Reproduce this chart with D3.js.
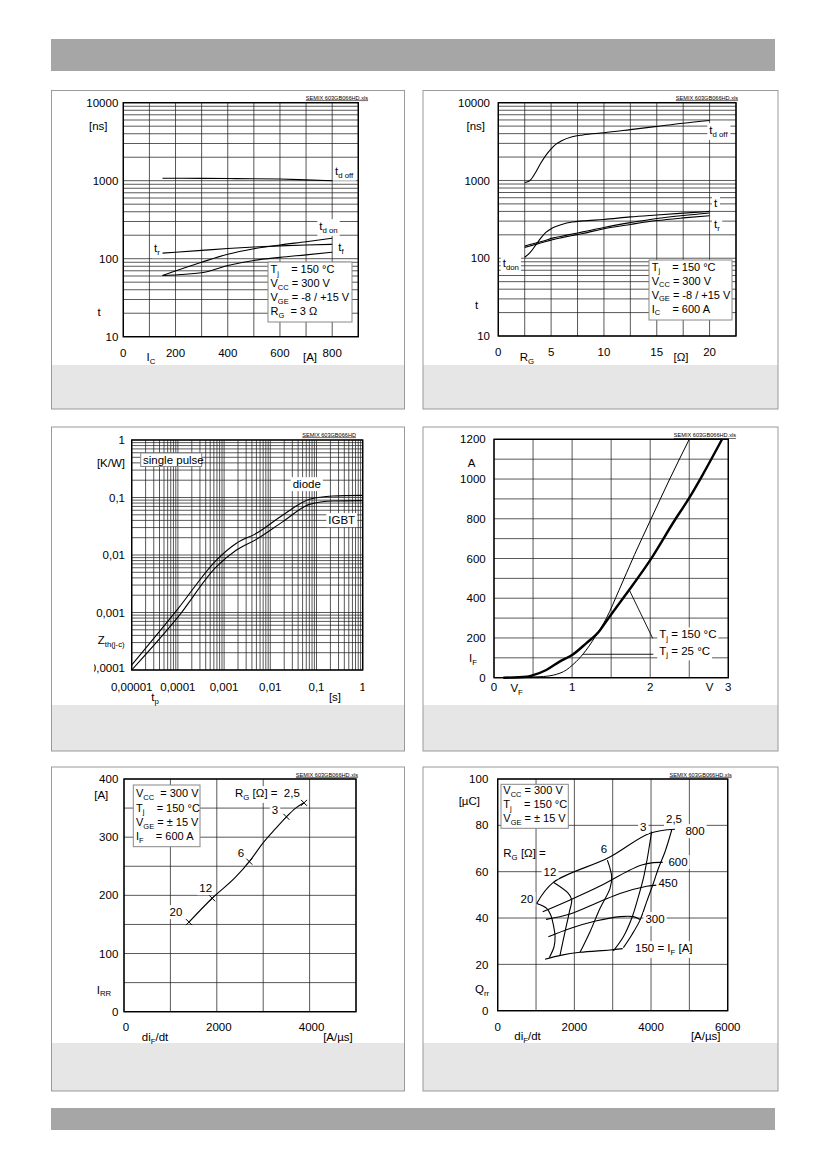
<!DOCTYPE html>
<html>
<head>
<meta charset="utf-8">
<script src="https://cdn.jsdelivr.net/npm/d3@7"></script>
<style>
  body { margin: 0; background: #fff; }
  text { font-family: "Liberation Sans", Arial, Helvetica, sans-serif; fill: #000; }
</style>
</head>
<body>
<script>
// ---------- data ----------

// fig 1: switching times vs I_C  (R_G = 3 ohm)
const icVals   = [150, 300, 400, 500, 600, 700, 800];
const tdoffIc  = [1075, 1070, 1065, 1060, 1050, 1025, 1000];
const tdonIc   = [61, 90, 114, 134, 150, 165, 183];
const trIc     = [118, 128, 135, 141, 146, 150, 153];
const tfIc     = [61, 66, 82, 95, 104, 112, 121];

// fig 2: switching times vs R_G  (I_C = 600 A)
const rgVals   = [2.5, 3, 3.5, 4, 4.5, 5, 5.5, 6, 7, 8, 10, 12.5, 15, 17.5, 20];
const tdoffRg  = [940, 1000, 1250, 1650, 2100, 2550, 2950, 3250, 3650, 3850, 4100, 4500, 4950, 5450, 5900];
const tdonRg   = [103, 118, 145, 180, 215, 240, 258, 272, 292, 302, 315, 340, 360, 380, 400];
const tfRg     = [144, 150, 156, 163, 170, 180, 186, 192, 205, 218, 249, 287, 325, 355, 382];
const trRg     = [138, 144, 150, 157, 164, 171, 178, 184, 196, 208, 240, 272, 305, 330, 352];

// fig 3: transient thermal impedance
const tpDiode  = [1e-5, 1.02e-4, 6.84e-4, 1.85e-3, 4.99e-3, 0.01875, 0.0706, 0.2254, 1];
const zthDiode = [1.22e-4, 1.18e-3, 8.18e-3, 0.0160, 0.0238, 0.0497, 0.0929, 0.1062, 0.109];
const tpIgbt   = [1e-5, 1.02e-4, 6.84e-4, 1.85e-3, 4.99e-3, 0.01875, 0.0706, 0.2254, 1];
const zthIgbt  = [1e-4, 8.47e-4, 6.27e-3, 0.0122, 0.0187, 0.0380, 0.0760, 0.0869, 0.0881];

// fig 4: diode forward characteristic
const vf150 = [0.12, 0.42, 0.5, 0.67, 0.84, 1.0, 1.18, 1.35, 1.44, 1.5, 1.69, 2.0, 2.31, 2.5, 2.67, 2.92];
const if150 = [0, 5, 13, 39, 81, 114, 173, 235, 285, 318, 420, 592, 790, 905, 1020, 1200];
const vf25  = [0.12, 0.59, 0.76, 0.93, 1.0, 1.05, 1.18, 1.31, 1.44, 1.6, 1.8, 2.0, 2.25, 2.5];
const if25  = [0, 5, 13, 40, 62, 80, 139, 215, 300, 440, 620, 790, 1000, 1200];

// fig 5: peak reverse recovery current vs di/dt
const didtIrr = [1400, 1900, 2414, 2700, 2986, 3271, 3500, 3700, 3879];
const irrVals = [154, 195, 232, 258, 289, 315, 335, 350, 359];
const rgMarkLabels = ["20", "12", "6", "3", "2,5"];
const rgMarkDidt   = [1400, 1900, 2700, 3500, 3879];
const rgMarkIrr    = [154, 195, 258, 335, 359];

// fig 6: recovered charge vs di/dt (lines of constant I_F and constant R_G)
const if800Di = [1017, 1452, 2887, 3957, 4626];
const if800Q  = [46.3, 55.4, 66.0, 76.5, 78.3];
const if600Di = [1174, 1887, 2670, 3365, 3757, 4061, 4304];
const if600Q  = [42.7, 47.8, 53.8, 60.0, 62.9, 63.9, 64.0];
const if450Di = [1261, 1887, 2670, 3191, 3887, 4148];
const if450Q  = [39.4, 41.7, 47.1, 50.6, 53.7, 54.2];
const if300Di = [1322, 1887, 2583, 3191, 3539, 3713];
const if300Q  = [31.9, 35.5, 38.8, 40.6, 40.6, 39.4];
const if150Di = [1235, 1670, 2148, 2930, 3261];
const if150Q  = [22.2, 24.0, 25.2, 26.2, 26.8];
const rg20Di  = [1017, 1278, 1383, 1452, 1496, 1470, 1348];
const rg20Q   = [46.3, 44.2, 41.3, 37.0, 31.9, 27.6, 23.0];
const rg12Di  = [1452, 1843, 1930, 1870, 1757, 1626];
const rg12Q   = [55.4, 50.6, 47.8, 42.7, 34.1, 24.0];
const rg6Di   = [2861, 2974, 2930, 2670, 2409, 2148];
const rg6Q    = [65.0, 57.8, 52.8, 44.2, 34.1, 25.2];
const rg3Di   = [4017, 3974, 3904, 3800, 3670, 3496, 3278, 3017];
const rg3Q    = [77.3, 72.9, 65.8, 57.1, 49.2, 39.9, 31.9, 25.8];
const rg25Di  = [4539, 4365, 4191, 4061, 3887, 3713, 3496, 3278];
const rg25Q   = [78.0, 68.6, 61.4, 55.0, 47.1, 39.1, 32.7, 27.2];

// ---------- page ----------
const svg = d3.select("body").append("svg")
    .attr("width", 826).attr("height", 1169);

svg.append("rect").attr("x", 51).attr("y", 39).attr("width", 724).attr("height", 32).attr("fill", "#a6a6a6");
svg.append("rect").attr("x", 51).attr("y", 1108).attr("width", 724).attr("height", 22).attr("fill", "#a6a6a6");

const panels = [
    {x: 51.5, y: 90.5, w: 353, h: 318.5, band: 365},
    {x: 423, y: 90.5, w: 355, h: 318.5, band: 365},
    {x: 51.5, y: 427, w: 353, h: 324, band: 705},
    {x: 423, y: 427, w: 355, h: 324, band: 705},
    {x: 51.5, y: 767, w: 353, h: 324, band: 1043},
    {x: 423, y: 767, w: 355, h: 324, band: 1043}
];
panels.forEach(p => {
    svg.append("rect").attr("x", p.x).attr("y", p.band).attr("width", p.w).attr("height", p.y + p.h - p.band)
        .attr("fill", "#e6e6e6");
    svg.append("rect").attr("x", p.x).attr("y", p.y).attr("width", p.w).attr("height", p.h)
        .attr("fill", "none").attr("stroke", "#9a9a9a").attr("stroke-width", 1);
});

// text with _{sub} support, y is the vertical middle of the glyphs
function rich(g, str, x, y, opt = {}) {
    const size = opt.size || 11.5;
    const t = g.append("text")
        .attr("x", x).attr("y", y + size * 0.36)
        .attr("font-size", size)
        .attr("text-anchor", opt.anchor || "start")
        .style("white-space", "pre");
    let sub = false;
    str.split(/(_\{[^}]*\})/).forEach(p => {
        if (!p) return;
        const m = p.match(/^_\{(.*)\}$/);
        if (m) {
            t.append("tspan").attr("font-size", size * 0.68).attr("dy", size * 0.24).text(m[1]);
            sub = true;
        } else {
            const ts = t.append("tspan").text(p);
            if (sub) { ts.attr("dy", -size * 0.24); sub = false; }
        }
    });
    if (opt.bg) {
        const b = t.node().getBBox();
        g.insert("rect", () => t.node())
            .attr("x", b.x - 2).attr("y", b.y - 1).attr("width", b.width + 4).attr("height", b.height + 2)
            .attr("fill", "#fff");
    }
    return t;
}

function logTicks(lo, hi) {
    const out = [];
    for (let e = lo; e < hi; e++) for (let d = 1; d < 10; d++) out.push(d * Math.pow(10, e));
    out.push(Math.pow(10, hi));
    return out;
}

function grid(g, x, y, xt, yt) {
    const [x0, x1] = x.range(), [y0, y1] = y.range();
    g.append("g").selectAll("line").data(xt).join("line")
        .attr("x1", d => x(d)).attr("x2", d => x(d)).attr("y1", y0).attr("y2", y1)
        .attr("stroke", "#222").attr("stroke-width", 0.75);
    g.append("g").selectAll("line").data(yt).join("line")
        .attr("x1", x0).attr("x2", x1).attr("y1", d => y(d)).attr("y2", d => y(d))
        .attr("stroke", "#222").attr("stroke-width", 0.75);
    g.append("rect").attr("x", x0).attr("y", y1).attr("width", x1 - x0).attr("height", y0 - y1)
        .attr("fill", "none").attr("stroke", "#000").attr("stroke-width", 1.4);
}

function note(g, str, x, y) {
    g.append("text").attr("x", x).attr("y", y).attr("font-size", 5.6).attr("text-anchor", "end")
        .attr("fill", "#444").style("text-decoration", "underline").text(str);
}

function curve(g, xs, ys, x, y, w, type) {
    g.append("path").datum(d3.zip(xs, ys))
        .attr("fill", "none").attr("stroke", "#000").attr("stroke-width", w || 1.1)
        .attr("stroke-linejoin", "round")
        .attr("d", d3.line().x(d => x(d[0])).y(d => y(d[1])).curve(type || d3.curveMonotoneX));
}

function legendBox(g, x, y, w, h, lines, tx, ty, step) {
    g.append("rect").attr("x", x).attr("y", y).attr("width", w).attr("height", h)
        .attr("fill", "#fff").attr("stroke", "#888").attr("stroke-width", 1);
    lines.forEach((s, i) => rich(g, s, tx, ty + i * step, {size: 11}));
}

// ---------- fig 1 ----------
{
    const g = svg.append("g");
    const x = d3.scaleLinear().domain([0, 900]).range([123.3, 358.3]);
    const y = d3.scaleLog().domain([10, 10000]).range([336.7, 102.7]);
    grid(g, x, y, d3.range(0, 901, 100), logTicks(1, 4));
    note(g, "SEMIX 603GB066HD.xls", 368, 99.5);
    [10, 100, 1000, 10000].forEach(v => rich(g, String(v), 118.3, y(v), {anchor: "end"}));
    rich(g, "[ns]", 107.5, y(5000), {anchor: "end"});
    rich(g, "t", 99, y(21), {anchor: "middle"});
    [0, 200, 400, 600, 800].forEach(v => rich(g, String(v), x(v), 353.3, {anchor: "middle"}));
    rich(g, "I_{C}", x(106), 356.7, {anchor: "middle"});
    rich(g, "[A]", x(715), 357, {anchor: "middle"});

    curve(g, icVals, tdoffIc, x, y);
    curve(g, icVals, tdonIc, x, y);
    curve(g, icVals, trIc, x, y);
    curve(g, icVals, tfIc, x, y);

    rich(g, "t_{d off}", 335, 170.7, {bg: true});
    rich(g, "t_{d on}", 319.3, 226, {bg: true});
    rich(g, "t_{r}", 154, 248.3, {bg: true});
    rich(g, "t_{f}", 338.3, 246.7, {bg: true});
    legendBox(g, 268, 262, 84, 60,
        ["T_{j}    = 150 °C", "V_{CC} = 300 V", "V_{GE} = -8 / +15 V", "R_{G}  = 3 Ω"], 270.5, 269, 14);
}

// ---------- fig 2 ----------
{
    const g = svg.append("g");
    const x = d3.scaleLinear().domain([0, 22.5]).range([498.3, 736]);
    const y = d3.scaleLog().domain([10, 10000]).range([336, 102.7]);
    grid(g, x, y, d3.range(0, 22.6, 2.5), logTicks(1, 4));
    note(g, "SEMIX 603GB066HD.xls", 738, 99.5);
    [10, 100, 1000, 10000].forEach(v => rich(g, String(v), 490, y(v), {anchor: "end"}));
    rich(g, "[ns]", 485, y(5000), {anchor: "end"});
    rich(g, "t", 476.7, y(25), {anchor: "middle"});
    [0, 5, 10, 15, 20].forEach(v => rich(g, String(v), x(v), 351.7, {anchor: "middle"}));
    rich(g, "R_{G}", x(2.7), 356.7, {anchor: "middle"});
    rich(g, "[Ω]", x(17.3), 356.7, {anchor: "middle"});

    curve(g, rgVals, tdoffRg, x, y);
    curve(g, rgVals, tdonRg, x, y);
    curve(g, rgVals, tfRg, x, y);
    curve(g, rgVals, trRg, x, y);

    rich(g, "t_{d off}", 709.3, 130, {bg: true});
    rich(g, "t", 714, 202.7, {bg: true});
    rich(g, "t_{r}", 714, 224, {bg: true});
    rich(g, "t_{don}", 502.7, 262.7, {bg: true});
    legendBox(g, 649, 260, 83, 60,
        ["T_{j}    = 150 °C", "V_{CC} = 300 V", "V_{GE} = -8 / +15 V", "I_{C}    = 600 A"], 651.7, 266.7, 14);
}

// ---------- fig 3 ----------
{
    const g = svg.append("g");
    const x = d3.scaleLog().domain([1e-5, 1]).range([131.7, 362.7]);
    const y = d3.scaleLog().domain([1e-4, 1]).range([670, 440]);
    grid(g, x, y, logTicks(-5, 0), logTicks(-4, 0));
    note(g, "SEMIX 603GB066HD", 356, 436.5);

    svg.append("clipPath").attr("id", "clip3")
        .append("rect").attr("x", 94).attr("y", 420).attr("width", 270.5).attr("height", 300);
    const lab = g.append("g").attr("clip-path", "url(#clip3)");
    const yTickVals = [1, 0.1, 0.01, 0.001, 0.0001];
    const yTickText = ["1", "0,1", "0,01", "0,001", "0,0001"];
    yTickVals.forEach((v, i) => rich(lab, yTickText[i], 125, y(v) - (i === 4 ? 2 : 0), {anchor: "end"}));
    const xTickVals = [1e-5, 1e-4, 1e-3, 1e-2, 1e-1, 1];
    const xTickText = ["0,00001", "0,0001", "0,001", "0,01", "0,1", "1"];
    xTickVals.forEach((v, i) => rich(lab, xTickText[i], x(v), 686.7, {anchor: "middle"}));
    rich(g, "[K/W]", 125, 463.3, {anchor: "end"});
    rich(g, "Z_{th(j-c)}", 97.7, 640);
    rich(g, "t_{p}", 155, 696.7, {anchor: "middle"});
    rich(g, "[s]", 335, 696.7, {anchor: "middle"});

    curve(g, tpDiode, zthDiode, x, y);
    curve(g, tpIgbt, zthIgbt, x, y);

    g.append("rect").attr("x", 140.7).attr("y", 453).attr("width", 61).attr("height", 13.5)
        .attr("fill", "#fff").attr("stroke", "#888").attr("stroke-width", 1);
    rich(g, "single pulse", 143, 459.7);
    rich(g, "diode", 292.7, 484, {bg: true});
    rich(g, "IGBT", 328.3, 520, {bg: true});
}

// ---------- fig 4 ----------
{
    const g = svg.append("g");
    const x = d3.scaleLinear().domain([0, 3]).range([494, 728.3]);
    const y = d3.scaleLinear().domain([0, 1200]).range([677.7, 439.3]);
    grid(g, x, y, d3.range(0, 3.01, 0.5), d3.range(0, 1201, 100));
    note(g, "SEMIX 603GB066HD.xls", 736, 437);
    [0, 200, 400, 600, 800, 1000, 1200].forEach(v => rich(g, String(v), 485.7, y(v), {anchor: "end"}));
    rich(g, "A", 471.7, y(1082), {anchor: "middle"});
    rich(g, "I_{F}", 473, y(98), {anchor: "middle"});
    [0, 1, 2, 3].forEach(v => rich(g, String(v), x(v), 686.7, {anchor: "middle"}));
    rich(g, "V_{F}", x(0.29), 688, {anchor: "middle"});
    rich(g, "V", x(2.76), 686.7, {anchor: "middle"});

    curve(g, vf25, if25, x, y, 1.0);
    curve(g, vf150, if150, x, y, 2.4);

    g.append("line").attr("x1", x(1.733)).attr("y1", y(441)).attr("x2", 652.7).attr("y2", 638.3)
        .attr("stroke", "#000").attr("stroke-width", 0.9);
    g.append("line").attr("x1", x(1.138)).attr("y1", y(118)).attr("x2", 653.3).attr("y2", y(118))
        .attr("stroke", "#000").attr("stroke-width", 0.9);
    rich(g, "T_{j} = 150 °C", 659.3, 634.3, {bg: true});
    rich(g, "T_{j} = 25 °C", 659.3, 650.5, {bg: true});
}

// ---------- fig 5 ----------
{
    const g = svg.append("g");
    const x = d3.scaleLinear().domain([0, 5000]).range([124, 356]);
    const y = d3.scaleLinear().domain([0, 400]).range([1011.7, 779]);
    grid(g, x, y, d3.range(0, 5001, 1000), d3.range(0, 401, 50));
    note(g, "SEMIX 603GB066HD.xls", 358, 776.5);
    [0, 100, 200, 300, 400].forEach(v => rich(g, String(v), 118.3, y(v), {anchor: "end"}));
    rich(g, "[A]", 108.3, y(373), {anchor: "end"});
    rich(g, "I_{RR}", 96.7, y(38));
    [0, 2000, 4000].forEach(v => rich(g, String(v), x(v) + 2, 1026.7, {anchor: "middle"}));
    rich(g, "di_{F}/dt", 155, 1036.7, {anchor: "middle"});
    rich(g, "[A/µs]", 338, 1036.7, {anchor: "middle"});

    legendBox(g, 133.3, 785, 66.7, 61.7,
        ["V_{CC}  = 300 V", "T_{j}    = 150 °C", "V_{GE} = ± 15 V", "I_{F}    = 600 A"], 136, 793.3, 14.4);

    rich(g, "20", 176, 912, {anchor: "middle", bg: true});
    rich(g, "12", 205.7, 888, {anchor: "middle", bg: true});
    rich(g, "6", 241, 853, {anchor: "middle", bg: true});
    rich(g, "3", 275, 810, {anchor: "middle", bg: true});
    rich(g, "R_{G} [Ω] =  2,5", 235, 793, {bg: true});

    curve(g, didtIrr, irrVals, x, y);
    const mk = d3.zip(rgMarkDidt, rgMarkIrr);
    g.append("g").selectAll("path").data(mk).join("path")
        .attr("d", d => {
            const px = x(d[0]), py = y(d[1]), s = 3;
            return `M${px - s},${py - s}L${px + s},${py + s}M${px - s},${py + s}L${px + s},${py - s}`;
        })
        .attr("stroke", "#000").attr("stroke-width", 1);
}

// ---------- fig 6 ----------
{
    const g = svg.append("g");
    const x = d3.scaleLinear().domain([0, 6000]).range([497.7, 727.7]);
    const y = d3.scaleLinear().domain([0, 100]).range([1010.7, 779]);
    grid(g, x, y, d3.range(0, 6001, 1000), d3.range(0, 101, 20));
    note(g, "SEMIX 603GB066HD.xls", 731.7, 776.5);
    [0, 20, 40, 60, 80, 100].forEach(v => rich(g, String(v), 488.3, y(v), {anchor: "end"}));
    rich(g, "[µC]", 480, y(90.5), {anchor: "end"});
    rich(g, "Q_{rr}", 475, y(9.5));
    [0, 2000, 4000, 6000].forEach(v => rich(g, String(v), x(v), 1026.7, {anchor: "middle"}));
    rich(g, "di_{F}/dt", 527.5, 1036, {anchor: "middle"});
    rich(g, "[A/µs]", 705.7, 1036, {anchor: "middle"});

    const cr = d3.curveCatmullRom.alpha(0.5);
    [[if800Di, if800Q], [if600Di, if600Q], [if450Di, if450Q], [if300Di, if300Q], [if150Di, if150Q],
     [rg20Di, rg20Q], [rg12Di, rg12Q], [rg6Di, rg6Q], [rg3Di, rg3Q], [rg25Di, rg25Q]]
        .forEach(s => curve(g, s[0], s[1], x, y, 1.1, cr));

    legendBox(g, 501, 784.3, 67.3, 44,
        ["V_{CC} = 300 V", "T_{j}    = 150 °C", "V_{GE} = ± 15 V"], 503.3, 790, 14.2);
    rich(g, "R_{G} [Ω] =", 503.3, 853);
    rich(g, "12", 550, 872, {anchor: "middle", bg: true});
    rich(g, "20", 527, 899, {anchor: "middle", bg: true});
    rich(g, "6", 604, 849, {anchor: "middle", bg: true});
    rich(g, "3", 643.3, 826.7, {anchor: "middle", bg: true});
    rich(g, "2,5", 674, 819, {anchor: "middle", bg: true});
    rich(g, "800", 695, 831, {anchor: "middle", bg: true});
    rich(g, "600", 678, 862, {anchor: "middle", bg: true});
    rich(g, "450", 668, 883, {anchor: "middle", bg: true});
    rich(g, "300", 655, 919, {anchor: "middle", bg: true});
    rich(g, "150 = I_{F} [A]", 635, 948, {bg: true});
}
</script>
</body>
</html>
